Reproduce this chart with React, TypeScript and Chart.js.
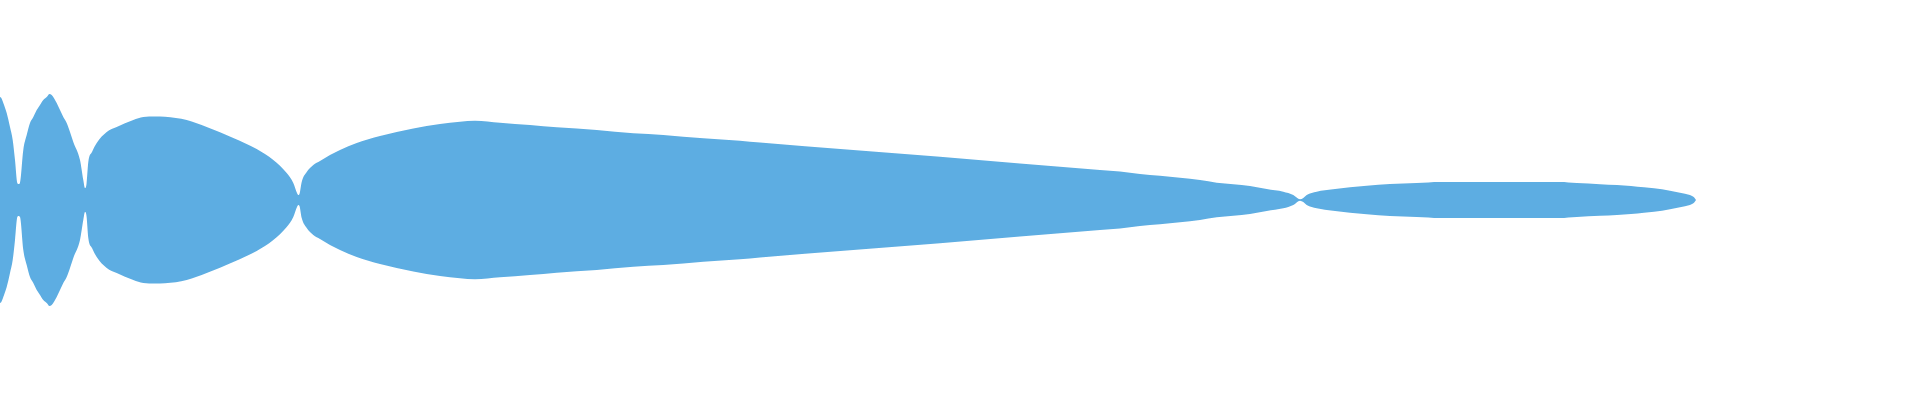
import React, { useEffect, useRef } from "react";
import { Chart, registerables } from "chart.js";

Chart.register(...registerables);

// Positions along the horizontal axis and half-thickness of the stream
const leftX = [0, 1.3, 3.3, 6.7, 10, 12.7, 15, 17.3, 18.5];
const leftH = [103, 102, 97, 87, 73, 60, 40, 17, 16];

const lensX = [20, 23.3, 26.7, 30, 33.3, 36.7, 40, 43.3, 46.7, 49.5, 51.7, 56.7, 60, 63.3, 66.7, 70, 73.3, 80, 83.3, 85];
const lensH = [17, 50, 65, 77, 83, 90, 95, 100, 103, 106, 105, 97, 90, 83, 77, 68, 58, 40, 20, 12];

const bulbX = [86.5, 88.3, 92, 96.7, 106.7, 116.7, 133.3, 143.3, 155, 165, 186.7, 206.7, 233.3, 256.7, 273.3, 286.7, 293.3, 297, 298.3];
const bulbH = [16, 38, 48, 57, 68, 73, 80, 83, 83.5, 83.3, 80, 73, 62, 51, 40, 27, 17, 7, 5];

const bodyX = [299.5, 301.7, 306.7, 313.3, 320, 330, 340, 356.7, 380, 396.7, 413.3, 440, 460, 475, 500, 530, 556.7, 596.7, 633.3, 663.3, 703.3, 740, 760, 940, 1100, 1120, 1140, 1160, 1180, 1200, 1216.7, 1233.3, 1250, 1266.7, 1283.3, 1293.3, 1300];
const bodyH = [6, 18, 28, 35, 39, 45, 50, 57, 64, 68, 71.5, 76, 78.3, 79.3, 77.3, 75, 72.7, 70, 66.7, 65, 61.7, 59.3, 57.5, 43.3, 30, 28.5, 26, 24.3, 22.3, 20, 17.3, 15.7, 14, 11, 8.3, 5, 0.7];

const tailX = [1303.3, 1306.7, 1316.7, 1333, 1350, 1366.7, 1390, 1416.7, 1440, 1500, 1560, 1576.7, 1600, 1617, 1631, 1644, 1654, 1662, 1670, 1675, 1680, 1685, 1689, 1692, 1694, 1696];
const tailH = [2, 5, 8.3, 10.7, 12.7, 14.3, 16, 17, 18, 18, 18, 17, 15.8, 15, 14, 12.7, 11.7, 10.7, 9.3, 8.3, 7.3, 6.3, 5.3, 4, 2.7, 0];

const X_MIN = 0;
const X_MAX = 1920;
const Y_MIN = -200;
const Y_MAX = 200;
const COLOR = "#5DADE2";

const hiddenAxis = {
  type: "linear" as const,
  display: true,
  ticks: { display: false },
  grid: { display: false, drawTicks: false },
  border: { display: false },
  title: { display: false },
};

export default function App() {
  const canvasRef = useRef<HTMLCanvasElement | null>(null);

  useEffect(() => {
    document.body.style.margin = "0";
    const canvas = canvasRef.current;
    if (!canvas) return;
    const xs = [...leftX, ...lensX, ...bulbX, ...bodyX, ...tailX];
    const hs = [...leftH, ...lensH, ...bulbH, ...bodyH, ...tailH];
    const upper = xs.map((x, i) => ({ x, y: hs[i] }));
    const lower = xs.map((x, i) => ({ x, y: -hs[i] }));

    const base = {
      borderWidth: 0,
      borderColor: COLOR,
      backgroundColor: COLOR,
      pointRadius: 0,
      cubicInterpolationMode: "monotone" as const,
      fill: "origin" as const,
    };

    const chart = new Chart(canvas, {
      type: "line",
      data: {
        datasets: [
          { ...base, data: upper },
          { ...base, data: lower },
        ],
      },
      options: {
        animation: false,
        responsive: true,
        maintainAspectRatio: false,
        plugins: {
          legend: { display: false },
          tooltip: { enabled: false },
        },
        scales: {
          x: { ...hiddenAxis, min: X_MIN, max: X_MAX },
          y: { ...hiddenAxis, min: Y_MIN, max: Y_MAX },
        },
      },
    });
    return () => chart.destroy();
  }, []);

  return (
    <div style={{ width: "1920px", height: "400px", position: "relative" }}>
      <canvas ref={canvasRef} />
    </div>
  );
}
